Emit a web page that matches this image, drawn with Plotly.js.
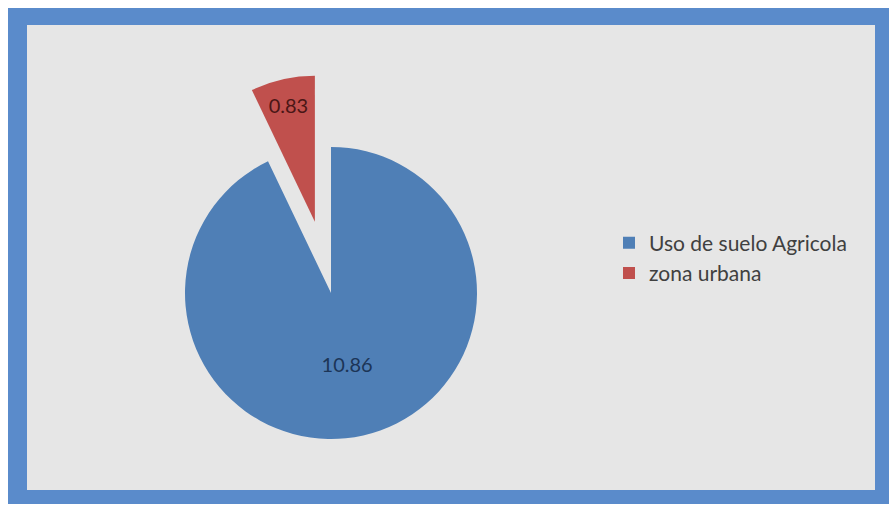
<!DOCTYPE html>
<html>
<head>
<meta charset="utf-8">
<script src="https://cdn.plot.ly/plotly-3.0.1.min.js"></script>
<style>html,body{margin:0;padding:0;background:#fff;}#chart{width:892px;height:512px;}</style>
</head>
<body>
<div id="chart"></div>
<script>
var categories = ["Uso de suelo Agricola", "zona urbana"];
var values = [10.86, 0.83];
var sliceColors = ["#4f7fb6", "#c0504d"];
var labelColors = ["#1c3557", "#4a1616"];
var pulls = [0, 0.5];

var W = 892, H = 512, T = 74;
function px(x) { return x / W; }
function py(y) { return (H - y) / (H - T); }

var trace = {
  type: "pie",
  labels: categories,
  values: values,
  sort: false,
  direction: "clockwise",
  rotation: 0,
  pull: pulls,
  marker: { colors: sliceColors, line: { width: 0 } },
  texttemplate: "%{value:.2f}",
  textposition: "inside",
  insidetextorientation: "horizontal",
  insidetextfont: { family: "Lato, 'Open Sans', sans-serif", size: 20, color: labelColors },
  hoverinfo: "label+value",
  domain: { x: [101 / W, 561 / W], y: [0, 1] }
};

var layout = {
  width: W,
  height: H,
  margin: { l: 0, r: 0, t: T, b: 0, pad: 0 },
  paper_bgcolor: "#ffffff",
  showlegend: true,
  legend: {
    x: px(609), xanchor: "left",
    y: py(258), yanchor: "middle",
    bgcolor: "rgba(0,0,0,0)",
    font: { family: "Lato, 'Open Sans', sans-serif", size: 21, color: "#404040" },
    itemclick: false
  },
  shapes: [
    { type: "rect", xref: "paper", yref: "paper", layer: "below",
      x0: px(8), x1: px(889), y0: py(504), y1: py(8),
      fillcolor: "#5a8bcb", line: { width: 0 } },
    { type: "rect", xref: "paper", yref: "paper", layer: "below",
      x0: px(27), x1: px(875), y0: py(490), y1: py(25),
      fillcolor: "#e6e6e6", line: { width: 0 } }
  ]
};

Plotly.newPlot("chart", [trace], layout, { displayModeBar: false, staticPlot: true });
</script>
</body>
</html>
